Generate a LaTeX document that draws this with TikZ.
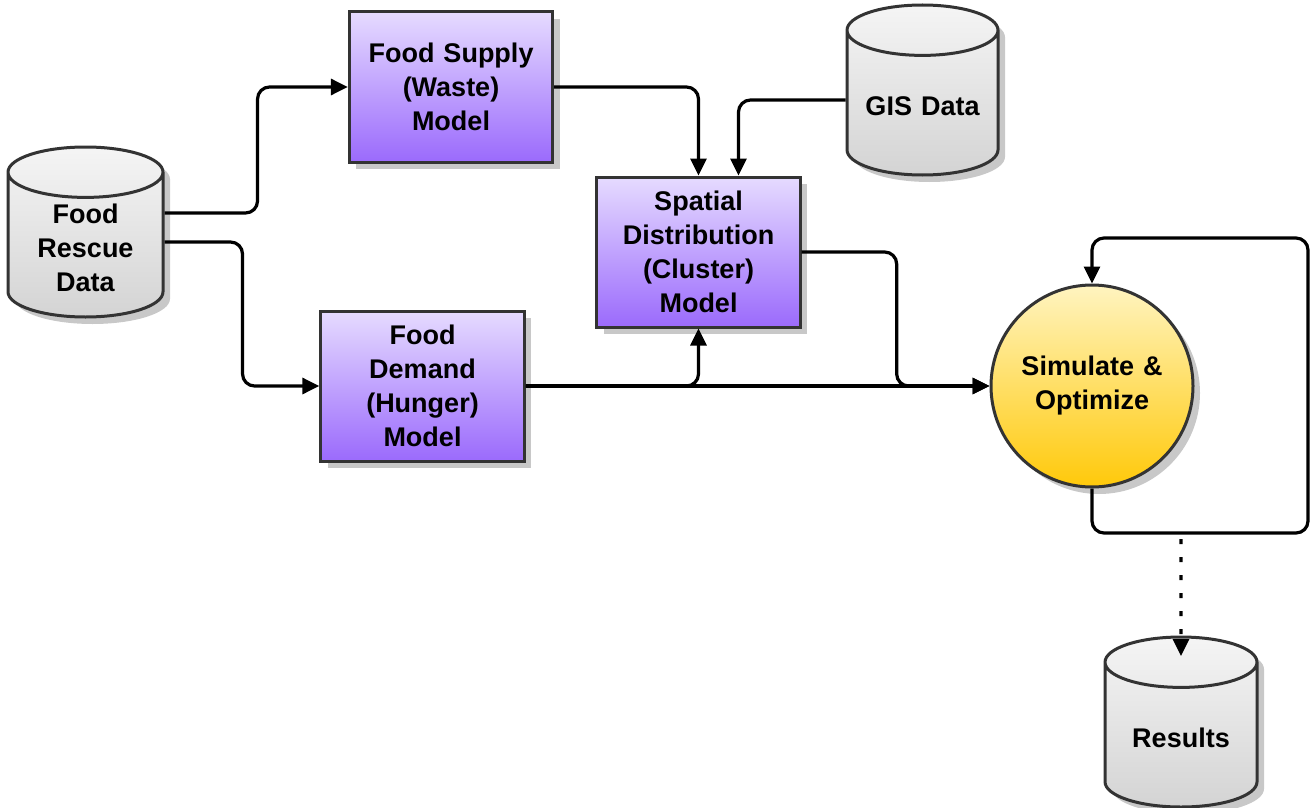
\documentclass[tikz,border=0pt]{standalone}
\usepackage{fontspec}
\setmainfont{Liberation Sans}
\usepackage{tikz}
\usetikzlibrary{shapes.geometric,shadows,arrows.meta}
\definecolor{foodLilac}{HTML}{E6DBFF}
\definecolor{foodPurple}{HTML}{9B6AFC}
\definecolor{foodCream}{HTML}{FFF4C0}
\definecolor{foodGold}{HTML}{FFC90A}
\definecolor{foodEdge}{HTML}{333333}
\definecolor{foodShade}{HTML}{C8C8C8}

\tikzset{
  labelfont/.style={font=\bfseries\fontsize{13.5}{17}\selectfont},
  shade/.style={drop shadow={shadow xshift=3.5pt, shadow yshift=-3.5pt, fill=foodShade, opacity=1}},
  model/.style={rectangle, draw=foodEdge, line width=1.5pt, top color=foodLilac, bottom color=foodPurple, minimum width=100.5pt, minimum height=75pt, text width=95pt, align=center, labelfont, shade},
  store/.style={cylinder, shape border rotate=90, aspect=0.35, anchor=shape center, inner sep=1pt, draw=foodEdge, line width=1.5pt, top color=black!4, bottom color=black!17, minimum width=77.5pt, minimum height=85pt, text width=70pt, align=center, labelfont, shade},
  engine/.style={circle, draw=foodEdge, line width=1.5pt, top color=foodCream, bottom color=foodGold, minimum size=101pt, text width=80pt, align=center, labelfont, shade},
  link/.style={-{Triangle[length=8.5pt,width=8pt]}, line width=1.6pt, rounded corners=6pt},
}

\begin{document}
\begin{tikzpicture}[x=0.5pt, y=-0.5pt]
\useasboundingbox (0,0) rectangle (1311,808);

\node[store] (rescue) at (85.5,232) {Food\\Rescue\\Data};
\node[model] (supply) at (451,87) {Food Supply\\(Waste)\\Model};
\node[model] (demand) at (422.5,386) {Food\\Demand\\(Hunger)\\Model};
\node[model] (spatial) at (698.5,252) {Spatial\\Distribution\\(Cluster)\\Model};
\node[store, minimum width=75.5pt] (gis) at (922.5,90) {GIS Data};
\node[engine] (sim) at (1092,386) {Simulate \&\\Optimize};
\node[store, minimum width=76pt] (results) at (1181,722) {Results};
\coordinate (dotstart) at (1181,539);

\draw[link] (rescue.east |- 0,213) -- ++(46.5pt,0) |- (supply.west);
\draw[link] (rescue.east |- 0,242) -- ++(39pt,0) |- (demand.west);
\draw[link] (supply.east) -| (spatial.north);
\draw[link] (gis.west |- 0,100) -| ([xshift=20pt]spatial.north);
\draw[link] (demand.east) -| (spatial.south);
\draw[link] (demand.east) -- (sim.west);
\draw[link] (spatial.east) -- ++(47.5pt,0) |- (sim.west);
\draw[link] (sim.south) |- (1308,533) -- (1308,238) -| (sim.north);
\draw[link, rounded corners=0pt, dash pattern=on 2.5pt off 6.5pt] (dotstart) -- (results.north |- 0,656);
\end{tikzpicture}
\end{document}
